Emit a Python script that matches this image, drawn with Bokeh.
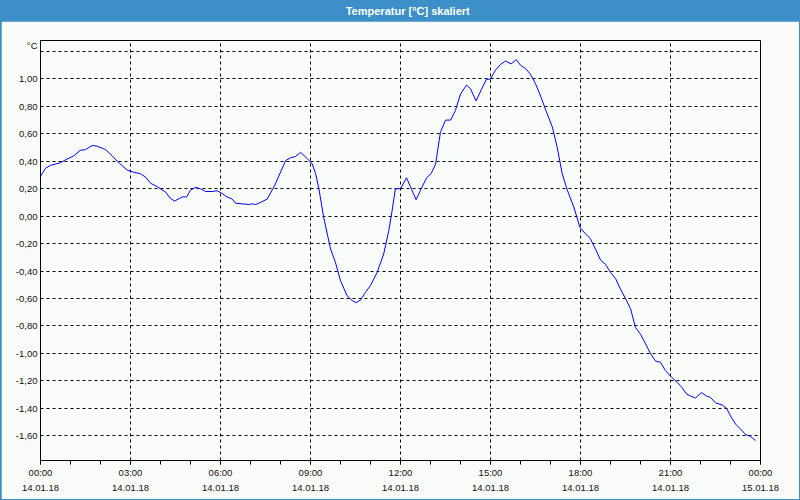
from bokeh.plotting import figure
from bokeh.models import Range1d, FixedTicker, Label, CustomJSTickFormatter
from bokeh.layouts import column
from bokeh.embed import file_html
from bokeh.resources import INLINE

# ---- data (hours since 14.01.18 00:00, temperature in °C) ----
hours = [0.00, 0.17, 0.33, 0.67, 0.83, 1.11, 1.33, 1.50, 1.72, 1.89, 2.17, 2.39, 2.56, 2.89,
         3.11, 3.33, 3.50, 3.67, 3.89, 4.17, 4.33, 4.47, 4.72, 4.87, 5.00, 5.17, 5.33, 5.50,
         5.72, 5.89, 6.02, 6.22, 6.39, 6.50, 6.72, 6.94, 7.06, 7.17, 7.33, 7.56, 7.83, 8.17,
         8.33, 8.50, 8.67, 8.89, 9.06, 9.17, 9.28, 9.44, 9.56, 9.67, 9.83, 10.00, 10.22, 10.39,
         10.53, 10.67, 10.83, 11.00, 11.22, 11.44, 11.61, 11.72, 11.83, 12.00, 12.20, 12.36,
         12.52, 12.69, 12.87, 13.02, 13.17, 13.33, 13.50, 13.67, 13.83, 14.00, 14.20, 14.33,
         14.52, 14.69, 14.86, 15.00, 15.17, 15.33, 15.50, 15.69, 15.86, 16.00, 16.17, 16.33,
         16.50, 16.67, 16.83, 17.06, 17.22, 17.39, 17.56, 17.78, 17.98, 18.11, 18.33, 18.50,
         18.67, 18.83, 19.00, 19.17, 19.33, 19.50, 19.67, 19.83, 20.00, 20.17, 20.33, 20.50,
         20.67, 20.83, 21.00, 21.22, 21.39, 21.53, 21.67, 21.83, 22.03, 22.20, 22.33, 22.50,
         22.72, 22.87, 23.00, 23.17, 23.33, 23.50, 23.67, 23.83]
temps = [0.29, 0.35, 0.37, 0.39, 0.41, 0.44, 0.48, 0.485, 0.515, 0.51, 0.485, 0.44, 0.40, 0.335,
         0.32, 0.31, 0.285, 0.24, 0.215, 0.175, 0.13, 0.11, 0.14, 0.14, 0.19, 0.21, 0.20, 0.18,
         0.18, 0.185, 0.17, 0.14, 0.125, 0.095, 0.09, 0.085, 0.09, 0.085, 0.10, 0.125, 0.235, 0.405,
         0.425, 0.435, 0.465, 0.42, 0.38, 0.31, 0.20, -0.01, -0.13, -0.24, -0.335, -0.47, -0.58, -0.615,
         -0.63, -0.61, -0.555, -0.505, -0.41, -0.275, -0.105, 0.04, 0.20, 0.20, 0.28, 0.20,
         0.12, 0.20, 0.28, 0.31, 0.38, 0.61, 0.70, 0.70, 0.77, 0.89, 0.955, 0.93,
         0.84, 0.92, 0.995, 1.00, 1.065, 1.105, 1.13, 1.11, 1.14, 1.10, 1.075, 1.035,
         0.965, 0.875, 0.78, 0.65, 0.505, 0.31, 0.19, 0.065, -0.08, -0.115, -0.165, -0.24,
         -0.32, -0.35, -0.41, -0.455, -0.53, -0.60, -0.675, -0.81, -0.86, -0.93, -1.00, -1.055,
         -1.065, -1.125, -1.165, -1.21, -1.25, -1.295, -1.31, -1.325, -1.285, -1.31, -1.32, -1.36,
         -1.375, -1.40, -1.455, -1.515, -1.55, -1.59, -1.605, -1.635]

x_ticks = [0, 3, 6, 9, 12, 15, 18, 21, 24]
x_minor_ticks = list(range(0, 25))
x_tick_labels = ["00:00\n14.01.18", "03:00\n14.01.18", "06:00\n14.01.18", "09:00\n14.01.18",
                 "12:00\n14.01.18", "15:00\n14.01.18", "18:00\n14.01.18", "21:00\n14.01.18",
                 "00:00\n15.01.18"]
y_ticks = [-1.6, -1.4, -1.2, -1.0, -0.8, -0.6, -0.4, -0.2, 0.0, 0.2, 0.4, 0.6, 0.8, 1.0, 1.245]
y_tick_labels = ["-1,60", "-1,40", "-1,20", "-1,00", "-0,80", "-0,60", "-0,40", "-0,20",
                 "0,00", "0,20", "0,40", "0,60", "0,80", "1,00", "°C"]
y_grid = [-1.6, -1.4, -1.2, -1.0, -0.8, -0.6, -0.4, -0.2, 0.0, 0.2, 0.4, 0.6, 0.8, 1.0, 1.2]
title_text = "Temperatur [°C] skaliert"

BG = "#fafcfa"
BLUE = "#3c8fc7"
FONT = "Liberation Sans"

# ---- title bar ----
t = figure(width=800, height=21, x_range=Range1d(0, 800), y_range=Range1d(0, 21),
           output_backend="svg", toolbar_location=None, min_border=0,
           x_axis_location=None, y_axis_location=None,
           background_fill_color=BLUE, border_fill_color=BLUE, outline_line_color=None)
t.grid.visible = False
t.add_layout(Label(x=408, y=11, text=title_text, text_align="center", text_baseline="middle",
                   text_color="white", text_font=FONT, text_font_style="bold",
                   text_font_size="11px"))

# ---- main chart (1px blue window border around it via margin) ----
p = figure(width=798, height=478, x_range=Range1d(0, 24), y_range=Range1d(-1.78, 1.28),
           output_backend="svg", toolbar_location=None,
           min_border_left=39, min_border_right=39, min_border_top=19, min_border_bottom=39,
           background_fill_color=BG, border_fill_color=BG,
           outline_line_color="black", outline_line_width=1,
           margin=(0, 1, 1, 1))

p.line(hours, temps, line_color="#0000ff", line_width=1)

fmt_code = """
let best = 0;
for (let i = 0; i < tvals.length; i++) {
  if (Math.abs(tvals[i] - tick) < Math.abs(tvals[best] - tick)) best = i;
}
return tlabels[best];
"""

p.xaxis.ticker = FixedTicker(ticks=x_ticks, minor_ticks=x_minor_ticks)
p.xaxis.formatter = CustomJSTickFormatter(args=dict(tvals=x_ticks, tlabels=x_tick_labels), code=fmt_code)
p.xaxis.major_tick_out = 4
p.xaxis.major_tick_in = 0
p.xaxis.minor_tick_out = 4
p.xaxis.minor_tick_in = 0
p.xaxis.major_label_standoff = 2
p.xaxis.major_label_text_line_height = 1.45

p.yaxis.ticker = FixedTicker(ticks=y_ticks)
p.yaxis.formatter = CustomJSTickFormatter(args=dict(tvals=y_ticks, tlabels=y_tick_labels), code=fmt_code)
p.yaxis.major_tick_out = 0
p.yaxis.major_tick_in = 0
p.yaxis.minor_tick_out = 0
p.yaxis.minor_tick_in = 0
p.yaxis.major_label_standoff = 3

for ax in (p.xaxis, p.yaxis):
    ax.axis_line_color = "black"
    ax.major_tick_line_color = "black"
    ax.minor_tick_line_color = "black"
    ax.major_label_text_color = "#111111"
    ax.major_label_text_font = FONT
    ax.major_label_text_font_size = "9.5px"

p.xgrid.ticker = FixedTicker(ticks=x_ticks)
p.ygrid.ticker = FixedTicker(ticks=y_grid)
for g in (p.xgrid, p.ygrid):
    g.grid_line_color = "black"
    g.grid_line_dash = "3 3"
    g.grid_line_width = 1

layout = column(t, p, spacing=0, styles={"background-color": BLUE})
open("out.html", "w").write(file_html(layout, INLINE))
